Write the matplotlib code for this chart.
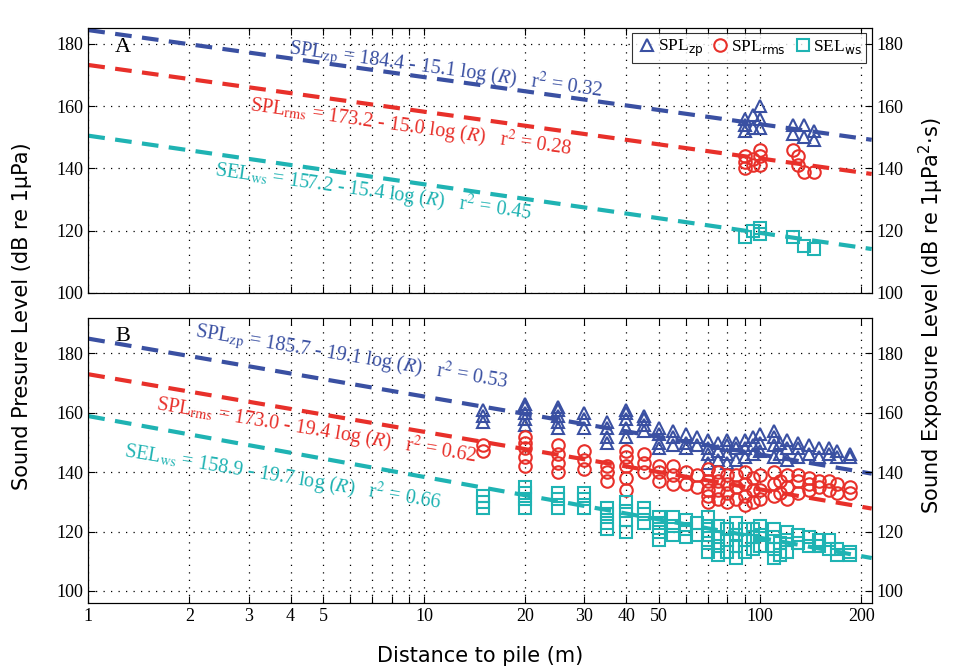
import matplotlib
matplotlib.use("Agg")
import matplotlib.pyplot as plt
import numpy as np
from matplotlib.ticker import FixedLocator, NullFormatter, FixedFormatter

# Panel A data
a_zp_d = [90, 90, 90, 95, 95, 100, 100, 100, 125, 125, 135, 135, 145, 145]
a_zp_v = [152, 154, 156, 153, 157, 153, 156, 160, 151, 154, 150, 154, 149, 152]
a_rms_d = [90, 90, 90, 95, 95, 100, 100, 100, 125, 130, 130, 135, 145]
a_rms_v = [140, 142, 144, 141, 143, 141, 144, 146, 146, 141, 144, 139, 139]
a_sel_d = [90, 95, 100, 100, 125, 135, 145]
a_sel_v = [118, 120, 119, 121, 118, 115, 114]

# Panel B data: distance -> values
b_dist = [15, 20, 25, 30, 35, 40, 45, 50, 55, 60, 65, 70, 75, 80, 85, 90, 95,
          100, 110, 115, 120, 130, 140, 150, 160, 170, 185]
b_zp = [[157, 159, 161], [156, 158, 160, 162, 163], [155, 157, 159, 161, 162],
        [155, 158, 160], [150, 152, 155, 157], [152, 155, 158, 160, 161],
        [154, 156, 158, 159], [148, 150, 153, 155], [149, 152, 154],
        [148, 150, 153], [149, 152], [143, 146, 148, 151], [144, 147, 150],
        [143, 146, 149, 151], [144, 148, 150], [145, 148, 151], [146, 149, 152],
        [147, 150, 153], [145, 149, 152, 154], [146, 150], [144, 148, 151],
        [145, 148, 150], [146, 149], [145, 148], [146, 148], [145, 147], [145, 146]]
b_rms = [[147, 149], [142, 145, 148, 150, 152], [140, 143, 146, 149],
         [141, 144, 147], [137, 140, 142], [134, 138, 142, 145, 147],
         [140, 143, 146], [137, 140, 142], [136, 139, 142], [136, 140], [135, 139],
         [130, 132, 134, 137, 141], [131, 134, 137, 140], [130, 133, 136, 139],
         [131, 135, 139], [129, 132, 136, 140], [130, 134, 138],
         [131, 134, 139], [132, 136, 140], [133, 137], [131, 135, 139],
         [133, 137, 139], [134, 136, 138], [135, 137], [134, 137], [133, 136], [133, 135]]
b_sel = [[128, 130, 132], [128, 131, 133, 135], [128, 131, 133], [128, 131, 133],
         [121, 123, 126, 128], [120, 124, 127, 130], [123, 126, 128],
         [117, 120, 123, 125], [119, 122, 125], [118, 121, 124], [119, 123],
         [113, 116, 119, 122, 125], [112, 115, 118, 122], [113, 117, 121],
         [111, 115, 119, 123], [113, 117, 121], [114, 118, 121], [115, 119, 122],
         [111, 114, 118, 121], [112, 116], [113, 117, 120], [116, 119], [115, 118],
         [115, 117], [114, 117], [112, 114], [112, 113]]

# fit equations as printed
fits_a = [(184.4, 15.1), (173.2, 15.0), (157.2, 15.4)]
fits_b = [(185.7, 19.1), (173.0, 19.4), (158.9, 19.7)]
# lines as drawn in the figure
lines_a = [(184.4, 15.1), (173.2, 15.0), (150.5, 15.6)]
lines_b = [(185.0, 19.5), (173.0, 19.4), (158.9, 20.5)]
r2_a = ["0.32", "0.28", "0.45"]
r2_b = ["0.53", "0.62", "0.66"]

BLUE, RED, CYAN = "#3a50a2", "#e8302a", "#1fb3b3"
cols = [BLUE, RED, CYAN]
markers = ["^", "o", "s"]

fig = plt.figure(figsize=(9.6, 6.72), dpi=100)
axA = fig.add_axes([0.092, 0.564, 0.816, 0.394])
axB = fig.add_axes([0.092, 0.103, 0.816, 0.424])

xt = [1, 2, 3, 4, 5, 6, 7, 8, 9, 10, 20, 30, 40, 50, 60, 70, 80, 90, 100, 200]
xl = ["1", "2", "3", "4", "5", "", "", "", "", "10", "20", "30", "40", "50",
      "", "", "", "", "100", "200"]

def flat(d, vv):
    xs, ys = [], []
    for di, v in zip(d, vv):
        xs += [di] * len(v); ys += v
    return xs, ys

def setup(ax, ylim, label):
    ax.set_xscale("log")
    ax.set_xlim(1, 215)
    ax.set_ylim(*ylim)
    ax.xaxis.set_major_locator(FixedLocator(xt))
    ax.xaxis.set_minor_locator(FixedLocator([]))
    ax.xaxis.set_major_formatter(FixedFormatter(xl))
    ax.set_yticks([100, 120, 140, 160, 180])
    ax.grid(True, which="major", color="black", linestyle=(0, (1, 5)), linewidth=0.9)
    ax.tick_params(direction="in", labelsize=13, length=5)
    for t in ax.get_xticklabels() + ax.get_yticklabels():
        t.set_fontfamily("Liberation Serif")
    ax.text(1.2, ylim[1] - 3, label, fontsize=16, family="Liberation Serif",
            va="top")
    tw = ax.twinx()
    tw.set_ylim(*ylim)
    tw.set_yticks([100, 120, 140, 160, 180])
    tw.tick_params(direction="in", labelsize=13, length=5)
    for t in tw.get_yticklabels():
        t.set_fontfamily("Liberation Serif")
    ax.tick_params(top=True, which="both")
    return tw

setup(axA, (100, 185), "A")
setup(axB, (96, 192), "B")
axA.tick_params(labelbottom=False)

xx = np.logspace(0, np.log10(215), 50)
for ax, fits in [(axA, lines_a), (axB, lines_b)]:
    for (a, b), c in zip(fits, cols):
        ax.plot(xx, a - b * np.log10(xx), color=c, lw=3, dashes=(4, 2.5))

ms = 9
mk = dict(mfc="none", ms=ms, mew=1.5, ls="none")
axA.plot(a_zp_d, a_zp_v, marker="^", color=BLUE, label=r"SPL$_{\rm zp}$", **mk)
axA.plot(a_rms_d, a_rms_v, marker="o", color=RED, label=r"SPL$_{\rm rms}$", **mk)
axA.plot(a_sel_d, a_sel_v, marker="s", color=CYAN, label=r"SEL$_{\rm ws}$", **mk)
for vv, m, c in zip([b_zp, b_rms, b_sel], markers, cols):
    xs, ys = flat(b_dist, vv)
    axB.plot(xs, ys, marker=m, color=c, **mk)

leg = axA.legend(loc="upper right", ncol=3, handletextpad=0.0, handlelength=1.2,
                 columnspacing=0.4, borderpad=0.25, fancybox=False, borderaxespad=0.3,
                 edgecolor="black", prop={"family": "Liberation Serif", "size": 12.5})
leg.get_frame().set_linewidth(0.8)

names = [r"SPL$_{\rm zp}$", r"SPL$_{\rm rms}$", r"SEL$_{\rm ws}$"]
posA = [(0.255, 0.905), (0.205, 0.685), (0.16, 0.44)]
posB = [(0.135, 0.935), (0.085, 0.675), (0.045, 0.51)]
for ax, fits, r2, pos, ang in [(axA, fits_a, r2_a, posA, -7.8), (axB, fits_b, r2_b, posB, -9.3)]:
    for (a, b), r, (px, py), n, c in zip(fits, r2, pos, names, cols):
        ax.text(px, py, f"{n} = {a} - {b} log ($R$)   r$^2$ = {r}", transform=ax.transAxes,
                color=c, fontsize=14.5, family="Liberation Serif", rotation=ang,
                rotation_mode="anchor", math_fontfamily="stix")

fig.text(0.5, 0.015, "Distance to pile (m)", ha="center", fontsize=15)
fig.text(0.012, 0.53, "Sound Presure Level (dB re 1µPa)", rotation=90, va="center", fontsize=15)
fig.text(0.985, 0.53, "Sound Exposure Level (dB re 1µPa$^2$·s)", rotation=90, va="center",
         ha="right", fontsize=15)
fig.savefig("out.png", dpi=100)
